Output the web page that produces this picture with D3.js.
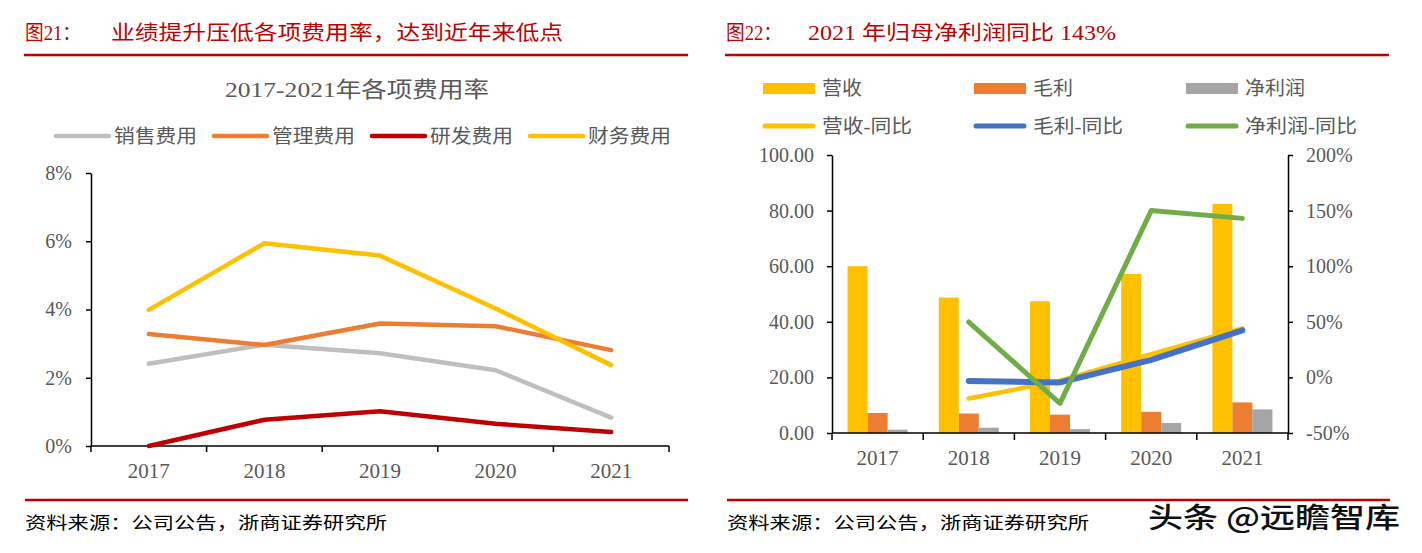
<!DOCTYPE html>
<html><head><meta charset="utf-8">
<script src="https://cdn.jsdelivr.net/npm/d3@7"></script>
<style>body{margin:0;background:#fff} svg{display:block}</style>
</head><body><svg id="c" width="1422" height="553"></svg>
<script>
// ---- data ----
const years = ["2017","2018","2019","2020","2021"];
const leftSeriesNames = ["销售费用","管理费用","研发费用","财务费用"];
const sales   = [2.41, 2.97, 2.72, 2.22, 0.83];
const admin   = [3.28, 2.96, 3.59, 3.51, 2.81];
const rnd     = [0.00, 0.77, 1.02, 0.65, 0.41];
const finance = [3.99, 5.94, 5.58, 4.03, 2.37];
const leftTicks = [0, 2, 4, 6, 8];

const barNames = ["营收","毛利","净利润"];
const lineNames = ["营收-同比","毛利-同比","净利润-同比"];
const revenue   = [60.0, 48.7, 47.4, 57.2, 82.4];
const gross     = [7.2, 7.0, 6.6, 7.6, 11.0];
const netProfit = [1.2, 1.9, 1.4, 3.6, 8.5];
const revenueYoY = [null, -19, -3, 21, 44];
const grossYoY   = [null, -3.3, -4.5, 15.7, 42.3];
const netYoY     = [null, 49.8, -23.4, 150, 143];
const rightLeftTicks  = [0, 20, 40, 60, 80, 100];
const rightRightTicks = [-50, 0, 50, 100, 150, 200];

// ---- style ----
const RED = "#C00000";
const SERIF = "'Liberation Serif','Times New Roman','Noto Sans CJK SC',serif";
const CJK = "'Liberation Serif','Noto Sans CJK SC',sans-serif";
const TXT = "#595959";
const leftColors = ["#BFBFBF","#ED7D31","#C00000","#FFC000"];
const barColors = ["#FFC000","#ED7D31","#A5A5A5"];
const lineColors = ["#FFC000","#4472C4","#70AD47"];

const svg = d3.select("#c");

function txt(x, y, s, opts) {
  const t = svg.append("text").attr("x", x).attr("y", y).text(s)
    .attr("font-family", opts.family || CJK)
    .attr("font-size", opts.size || 20)
    .attr("fill", opts.fill || TXT);
  if (opts.len) t.attr("textLength", opts.len).attr("lengthAdjust", "spacingAndGlyphs");
  if (opts.anchor) t.attr("text-anchor", opts.anchor);
  return t;
}
function hline(x1, x2, y, c, w) {
  svg.append("line").attr("x1", x1).attr("x2", x2).attr("y1", y).attr("y2", y)
    .attr("stroke", c).attr("stroke-width", w);
}

// ---- headers / footers ----
txt(25, 40, "图21：", {fill: RED, size: 20, len: 56});
txt(111, 40, "业绩提升压低各项费用率，达到近年来低点", {fill: RED, size: 20, len: 452});
txt(726, 40, "图22：", {fill: RED, size: 20, len: 56});
txt(808, 40, "2021 年归母净利润同比 143%", {fill: RED, size: 20, len: 308});
hline(24, 688, 55, RED, 2.5);
hline(725, 1389, 55, RED, 2.5);
hline(25, 688, 500, RED, 2.5);
hline(727, 1390, 500, RED, 2.5);
txt(25, 529, "资料来源：公司公告，浙商证券研究所", {fill: "#000", size: 17, len: 362});
txt(727, 529, "资料来源：公司公告，浙商证券研究所", {fill: "#000", size: 17, len: 362});
txt(1148, 528, "头条 @远瞻智库", {fill: "#111", size: 28, len: 252, family: "'Noto Sans CJK SC',sans-serif"})
  .attr("font-weight", 500);

// ---- left chart ----
txt(357, 97, "2017-2021年各项费用率", {size: 22, anchor: "middle", len: 264});
const legX = [56, 214, 372, 530];
leftSeriesNames.forEach((n, i) => {
  svg.append("line").attr("x1", legX[i]).attr("x2", legX[i] + 53).attr("y1", 136).attr("y2", 136)
    .attr("stroke", leftColors[i]).attr("stroke-width", 4.5).attr("stroke-linecap", "round");
  txt(legX[i] + 58, 143, n, {size: 19, len: 83});
});

const xL = d3.scaleBand().domain(years).range([91, 669]);
const yL = d3.scaleLinear().domain([0, 8]).range([446, 173]);

const gYL = svg.append("g").attr("transform", "translate(91,0)")
  .call(d3.axisLeft(yL).tickValues(leftTicks).tickFormat(d => d + "%").tickSize(5).tickSizeOuter(0).tickPadding(14));
gYL.selectAll("text").attr("font-family", SERIF).attr("font-size", 20).attr("fill", TXT);
gYL.selectAll("line, path").attr("stroke", "#000").attr("stroke-width", 1.5);

// x axis left
hline(91, 669, 446, "#000", 1.5);
years.concat(["end"]).forEach((yv, i) => {
  const xx = yv === "end" ? xL.range()[1] : xL(yv);
  svg.append("line").attr("x1", xx).attr("x2", xx).attr("y1", 446).attr("y2", 452)
    .attr("stroke", "#000").attr("stroke-width", 1.5);
});
years.forEach(yv => {
  txt(xL(yv) + xL.bandwidth() / 2, 478, yv, {family: SERIF, size: 21, anchor: "middle"});
});

const lineL = d3.line().x((d, i) => xL(years[i]) + xL.bandwidth() / 2).y(d => yL(d));
[sales, admin, rnd, finance].forEach((s, i) => {
  svg.append("path").attr("d", lineL(s)).attr("fill", "none")
    .attr("stroke", leftColors[i]).attr("stroke-width", 4.5)
    .attr("stroke-linecap", "round").attr("stroke-linejoin", "round");
});

// ---- right chart ----
const legRX = [763, 974, 1186];
barNames.forEach((n, i) => {
  svg.append("rect").attr("x", legRX[i]).attr("y", 83).attr("width", 52).attr("height", 11).attr("fill", barColors[i]);
  txt(legRX[i] + 59, 95, n, {size: 19, len: n.length * 20});
});
lineNames.forEach((n, i) => {
  svg.append("line").attr("x1", legRX[i] + 2).attr("x2", legRX[i] + 50).attr("y1", 126).attr("y2", 126)
    .attr("stroke", lineColors[i]).attr("stroke-width", 5).attr("stroke-linecap", "round");
  txt(legRX[i] + 59, 133, n, {size: 19, len: n.length === 5 ? 90 : 112});
});

const xR = d3.scaleBand().domain(years).range([832, 1288]);
const yRL = d3.scaleLinear().domain([0, 100]).range([433, 155]);
const yRR = d3.scaleLinear().domain([-50, 200]).range([433, 155]);
const xInner = d3.scaleBand().domain(barNames).range([0, xR.bandwidth()]).paddingInner(0).paddingOuter(0.78);

[revenue, gross, netProfit].forEach((s, si) => {
  svg.append("g").selectAll("rect").data(s).join("rect")
    .attr("x", (d, i) => xR(years[i]) + xInner(barNames[si]))
    .attr("width", xInner.bandwidth())
    .attr("y", d => yRL(d))
    .attr("height", d => yRL(0) - yRL(d))
    .attr("fill", barColors[si]);
});

const gRL = svg.append("g").attr("transform", "translate(832,0)")
  .call(d3.axisLeft(yRL).tickValues(rightLeftTicks).tickFormat(d3.format(".2f")).tickSize(5).tickSizeOuter(0).tickPadding(13));
gRL.selectAll("text").attr("font-family", SERIF).attr("font-size", 20).attr("fill", TXT);
gRL.selectAll("line, path").attr("stroke", "#000").attr("stroke-width", 1.5);

const gRR = svg.append("g").attr("transform", "translate(1288,0)")
  .call(d3.axisRight(yRR).tickValues(rightRightTicks).tickFormat(d => d + "%").tickSize(5).tickSizeOuter(0).tickPadding(13));
gRR.selectAll("text").attr("font-family", SERIF).attr("font-size", 20).attr("fill", TXT);
gRR.selectAll("line, path").attr("stroke", "#000").attr("stroke-width", 1.5);

hline(832, 1288, 433, "#000", 1.5);
years.concat(["end"]).forEach(yv => {
  const xx = yv === "end" ? xR.range()[1] : xR(yv);
  svg.append("line").attr("x1", xx).attr("x2", xx).attr("y1", 433).attr("y2", 440)
    .attr("stroke", "#000").attr("stroke-width", 1.5);
});
years.forEach(yv => {
  txt(xR(yv) + xR.bandwidth() / 2, 465, yv, {family: SERIF, size: 21, anchor: "middle"});
});

const lineR = d3.line().defined(d => d !== null)
  .x((d, i) => xR(years[i]) + xR.bandwidth() / 2).y(d => yRR(d));
const widths = [4.5, 6, 5];
[revenueYoY, grossYoY, netYoY].forEach((s, i) => {
  svg.append("path").attr("d", lineR(s)).attr("fill", "none")
    .attr("stroke", lineColors[i]).attr("stroke-width", widths[i])
    .attr("stroke-linecap", "round").attr("stroke-linejoin", "round");
});
</script></body></html>
